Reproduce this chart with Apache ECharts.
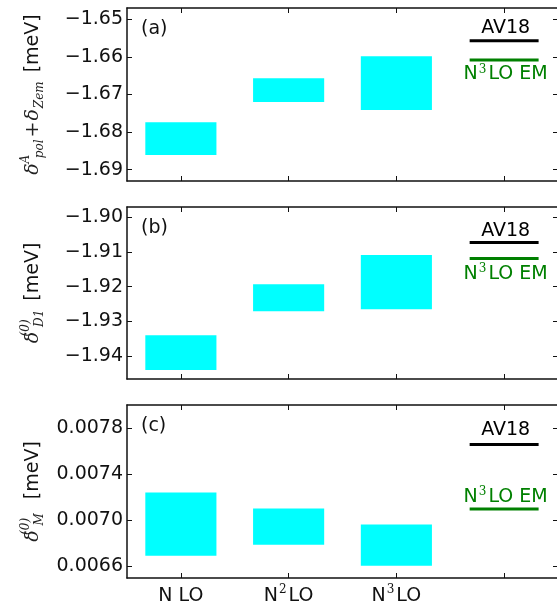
<!DOCTYPE html>
<html>
<head>
<meta charset="utf-8">
<script src="https://cdn.jsdelivr.net/npm/echarts@6/dist/echarts.min.js"></script>
<style>
  html, body { margin: 0; padding: 0; background: #fff; }
  #chart { width: 557px; height: 604px; }
</style>
</head>
<body>
<div id="chart"></div>
<script>
// categories on the x axis (the 4th slot holds the AV18 / N3LO EM references)
const CATEGORIES = ['N LO', 'N\u00b2LO', 'N\u00b3LO', ''];

// (a) delta_pol^A + delta_Zem
const BOX_LOW_A = [-1.6861, -1.6720, -1.6741];
const BOX_HIGH_A = [-1.6774, -1.6657, -1.6598];
const Y_TICKS_A = [-1.69, -1.68, -1.67, -1.66, -1.65];
const Y_RANGE_A = [-1.693, -1.647];

// (b) delta_D1^(0)
const BOX_LOW_B = [-1.9440, -1.9271, -1.9265];
const BOX_HIGH_B = [-1.9340, -1.9193, -1.9109];
const Y_TICKS_B = [-1.94, -1.93, -1.92, -1.91, -1.90];
const Y_RANGE_B = [-1.9466, -1.8971];

// (c) delta_M^(0)
const BOX_LOW_C = [0.006693, 0.006789, 0.006606];
const BOX_HIGH_C = [0.007241, 0.007102, 0.006963];
const Y_TICKS_C = [0.0066, 0.0070, 0.0074, 0.0078];
const Y_RANGE_C = [0.0065, 0.0080];

// reference values per panel (a, b, c)
const AV18 = [-1.6557, -1.9073, 0.007658];
const N3LO_EM = [-1.6608, -1.9119, 0.007099];

const PANEL_LABELS = ['(a)', '(b)', '(c)'];

// axis titles; the superscript has zero width so it stacks over the subscript
const panels = [
  { low: BOX_LOW_A, high: BOX_HIGH_A, ticks: Y_TICKS_A, range: Y_RANGE_A, digits: 2,
    title: '{d|δ}{sup|A}{sub|pol}{t|+}{d|δ}{sub|Zem}{u|[meV]}' },
  { low: BOX_LOW_B, high: BOX_HIGH_B, ticks: Y_TICKS_B, range: Y_RANGE_B, digits: 2,
    title: '{d|δ}{sup|(0)}{sub|D1}{u|[meV]}' },
  { low: BOX_LOW_C, high: BOX_HIGH_C, ticks: Y_TICKS_C, range: Y_RANGE_C, digits: 4,
    title: '{d|δ}{sup|(0)}{sub|M}{g| }{u|[meV]}' }
];

// layout
const GRID_LEFT = 127;
const GRID_WIDTH = 431;
const GRID_TOPS = [8, 207, 405];
const GRID_HEIGHTS = [173, 172, 173];
const BOX_W = 0.66;
const REF_W = 0.64;
const REF_COLORS = ['#000000', '#008000'];
// vertical offset of the reference text from its line, [AV18, N3LO EM]
const TEXT_OFFSETS = [[-12.5, 14.5], [-11.5, 15.5], [-14.5, -12]];

const SPINE = { show: true, onZero: false, lineStyle: { color: '#111', width: 1.5 } };
const FONT = 'DejaVu Sans';

const titleRich = {
  d: { fontFamily: 'DejaVu Serif', fontStyle: 'italic', fontSize: 19, color: '#222', lineHeight: 26 },
  sup: { fontFamily: 'DejaVu Serif', fontStyle: 'italic', fontSize: 12, color: '#222', lineHeight: 12,
    verticalAlign: 'top', width: 0, align: 'left', padding: [0, 0, 0, 4] },
  sub: { fontFamily: 'DejaVu Serif', fontStyle: 'italic', fontSize: 12, color: '#222', lineHeight: 13,
    verticalAlign: 'bottom', padding: [0, 0, 0, 1] },
  t: { fontFamily: 'DejaVu Serif', fontSize: 19, color: '#222', lineHeight: 26, padding: [0, 1, 0, 2] },
  g: { fontSize: 12, lineHeight: 26, width: 5 },
  u: { fontFamily: FONT, fontSize: 19, color: '#111', lineHeight: 26, padding: [0, 0, 0, 9] }
};

const catRich = {
  n: { fontFamily: FONT, fontSize: 19, color: '#111', lineHeight: 24 },
  s: { fontFamily: 'DejaVu Serif', fontSize: 12, color: '#111', lineHeight: 12, verticalAlign: 'top', padding: [0, 2, 0, 1] }
};

const grid = [], xAxis = [], yAxis = [], series = [], graphic = [];

panels.forEach((p, i) => {
  grid.push({ left: GRID_LEFT, width: GRID_WIDTH, top: GRID_TOPS[i], height: GRID_HEIGHTS[i],
    containLabel: false, outerBoundsMode: 'none' });

  ['bottom', 'top'].forEach(pos => {
    xAxis.push({
      type: 'category', gridIndex: i, position: pos, data: CATEGORIES,
      axisLine: SPINE,
      axisTick: { show: true, inside: true, alignWithLabel: true, length: 5, lineStyle: { color: '#111', width: 1 } },
      axisLabel: {
        show: pos === 'bottom' && i === 2, margin: 6, interval: 0,
        formatter: v => {
          if (!v) return '';
          const m = v.match(/^N([\u00b2\u00b3]?) ?LO$/);
          if (!m) return '{n|' + v + '}';
          return m[1] ? '{n|N}{s|' + (m[1] === '\u00b2' ? '2' : '3') + '}{n|LO}' : '{n|N LO}';
        },
        rich: catRich
      },
      splitLine: { show: false }
    });
  });

  ['left', 'right'].forEach(pos => {
    yAxis.push({
      type: 'value', gridIndex: i, position: pos,
      min: p.range[0], max: p.range[1],
      axisLine: SPINE,
      axisTick: { show: true, inside: true, length: 5, customValues: p.ticks, lineStyle: { color: '#111', width: 1 } },
      axisLabel: {
        show: pos === 'left', margin: 4, customValues: p.ticks,
        fontFamily: FONT, fontSize: 19, color: '#111',
        formatter: v => v.toFixed(p.digits).replace('-', '\u2212')
      },
      splitLine: { show: false },
      name: pos === 'left' ? p.title : '',
      nameLocation: 'middle', nameRotate: 90, nameGap: 81,
      nameTextStyle: { rich: titleRich }
    });
  });

  // uncertainty boxes
  series.push({
    type: 'custom', xAxisIndex: 2 * i, yAxisIndex: 2 * i,
    data: p.low.map((lo, k) => [k, lo, p.high[k]]),
    encode: { x: 0, y: [1, 2] },
    renderItem: (params, api) => {
      const c = api.value(0);
      const pLo = api.coord([c, api.value(1)]);
      const pHi = api.coord([c, api.value(2)]);
      const w = api.size([1, 0])[0] * BOX_W;
      return {
        type: 'rect',
        shape: { x: pLo[0] - w / 2, y: pHi[1], width: w, height: pLo[1] - pHi[1] },
        style: { fill: '#00ffff' }
      };
    }
  });

  // reference lines with their labels
  series.push({
    type: 'custom', xAxisIndex: 2 * i, yAxisIndex: 2 * i,
    data: [[3, AV18[i], 0], [3, N3LO_EM[i], 1]],
    encode: { x: 0, y: 1 },
    renderItem: (params, api) => {
      const k = api.value(2);
      const pt = api.coord([api.value(0), api.value(1)]);
      const w = api.size([1, 0])[0] * REF_W;
      const col = REF_COLORS[k];
      return {
        type: 'group',
        children: [
          { type: 'line', shape: { x1: pt[0] - w / 2, y1: pt[1], x2: pt[0] + w / 2, y2: pt[1] },
            style: { stroke: col, lineWidth: 3 } },
          { type: 'text', x: pt[0] + 1.5, y: pt[1] + TEXT_OFFSETS[i][k],
            style: {
              text: k === 0 ? '{n|AV18}' : '{n|N}{s|3}{n|LO EM}',
              align: 'center', verticalAlign: 'middle',
              rich: {
                n: { fontFamily: FONT, fontSize: 19, fill: col, lineHeight: 22 },
                s: { fontFamily: 'DejaVu Serif', fontSize: 12, fill: col, lineHeight: 12, verticalAlign: 'top', padding: [0, 2, 0, 1] }
              }
            } }
        ]
      };
    }
  });

  graphic.push({
    type: 'text', left: 141, top: GRID_TOPS[i] + 22.5 - 11,
    style: { text: PANEL_LABELS[i], fontFamily: FONT, fontSize: 19, fill: '#111' }
  });
});

const chart = echarts.init(document.getElementById('chart'), null, { renderer: 'canvas' });
chart.setOption({
  animation: false,
  backgroundColor: '#fff',
  grid, xAxis, yAxis, series, graphic
});
</script>
</body>
</html>
